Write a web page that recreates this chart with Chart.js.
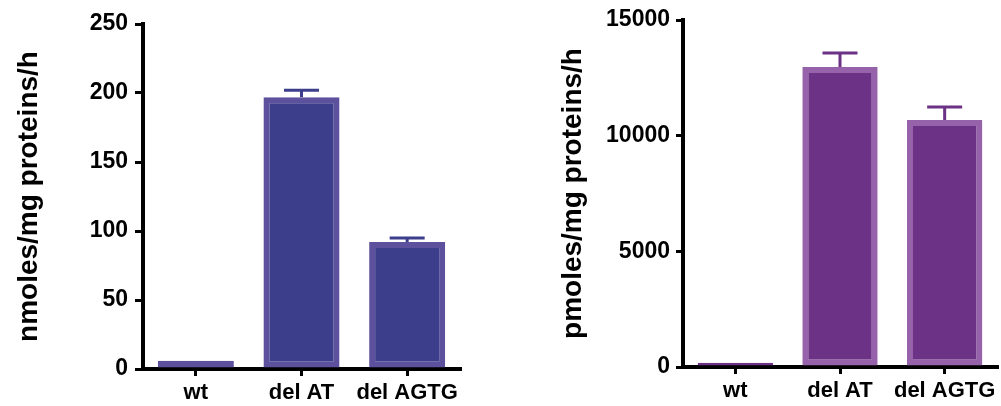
<!DOCTYPE html>
<html>
<head>
<meta charset="utf-8">
<script src="https://cdn.jsdelivr.net/npm/chart.js@4.4.1/dist/chart.umd.min.js"></script>
<style>
  html, body { margin: 0; padding: 0; background: #ffffff; }
  body { width: 1001px; height: 406px; position: relative; overflow: hidden; }
  canvas { position: absolute; top: 0; }
  #c1 { left: 0; }
  #c2 { left: 500px; }
</style>
</head>
<body>
<canvas id="c1" width="500" height="406"></canvas>
<canvas id="c2" width="501" height="406"></canvas>
<script>
// ---- data ----
const categories = ['wt', 'del AT', 'del AGTG'];

const nmolesValues = [6, 197, 92];
const nmolesErrors = [0, 5, 3];
const nmolesTicks = ['0', '50', '100', '150', '200', '250'];
const nmolesTitle = 'nmoles/mg proteins/h';

const pmolesValues = [180, 12970, 10680];
const pmolesErrors = [0, 600, 560];
const pmolesTicks = ['0', '5000', '10000', '15000'];
const pmolesTitle = 'pmoles/mg proteins/h';

// ---- error bar plugin ----
const errorBars = {
  id: 'errorBars',
  afterDatasetsDraw(chart, args, opts) {
    const ctx = chart.ctx;
    const yScale = chart.scales.y;
    chart.data.datasets.forEach((ds, di) => {
      const meta = chart.getDatasetMeta(di);
      meta.data.forEach((bar, i) => {
        const err = ds.errors[i];
        if (!err) return;
        const top = yScale.getPixelForValue(ds.data[i] + err);
        ctx.save();
        ctx.strokeStyle = opts.color;
        ctx.lineWidth = opts.lineWidth;
        ctx.beginPath();
        ctx.moveTo(bar.x, bar.y);
        ctx.lineTo(bar.x, top);
        ctx.moveTo(bar.x - opts.capWidth / 2, top);
        ctx.lineTo(bar.x + opts.capWidth / 2, top);
        ctx.stroke();
        ctx.restore();
      });
    });
  }
};

const FONT = "'Liberation Sans', Arial, Helvetica, sans-serif";

function makeChart(id, cfg) {
  return new Chart(document.getElementById(id), {
    type: 'bar',
    data: {
      labels: categories,
      datasets: [{
        data: cfg.values,
        errors: cfg.errors,
        backgroundColor: cfg.fill,
        borderColor: cfg.border,
        borderWidth: 6,
        borderSkipped: false,
        barPercentage: 0.9,
        categoryPercentage: 0.8
      }]
    },
    options: {
      responsive: false,
      animation: false,
      devicePixelRatio: 1,
      layout: { padding: cfg.padding },
      plugins: {
        legend: { display: false },
        tooltip: { enabled: false },
        errorBars: { color: cfg.fill, lineWidth: 3, capWidth: 35 }
      },
      scales: {
        x: {
          offset: true,
          grid: { offset: false, drawOnChartArea: false, drawTicks: true, tickLength: 7, color: '#000', lineWidth: 3 },
          border: { display: true, color: '#000', width: 4 },
          ticks: { color: '#000', padding: 4, font: { family: FONT, size: 22, weight: 'bold' }, maxRotation: 0, autoSkip: false },
          afterFit: (axis) => { axis.height = cfg.xHeight; }
        },
        y: {
          min: 0,
          max: cfg.max,
          grid: { drawOnChartArea: false, drawTicks: true, tickLength: cfg.tickLen, color: '#000', lineWidth: 3 },
          border: { display: true, color: '#000', width: 4 },
          ticks: {
            stepSize: cfg.step,
            color: '#000',
            padding: cfg.tickPad,
            font: { family: FONT, size: 23, weight: 'bold' },
            callback: (v, i) => cfg.tickLabels[i]
          },
          title: {
            display: true,
            text: cfg.title,
            color: '#000',
            font: { family: FONT, size: 28, weight: 'bold' },
            padding: { top: cfg.titlePad, bottom: 0 }
          },
          afterFit: (axis) => { axis.width = cfg.yWidth; }
        }
      }
    },
    plugins: [errorBars]
  });
}

makeChart('c1', {
  values: nmolesValues, errors: nmolesErrors, tickLabels: nmolesTicks, title: nmolesTitle,
  max: 250, step: 50,
  fill: '#3c3e8b', border: '#5d519e',
  padding: { left: 0, top: 24, right: 40, bottom: 0 },
  xHeight: 37, yWidth: 143, tickLen: 8, tickPad: 7, titlePad: 12
});

makeChart('c2', {
  values: pmolesValues, errors: pmolesErrors, tickLabels: pmolesTicks, title: pmolesTitle,
  max: 15000, step: 5000,
  fill: '#6b3286', border: ['#6b3286', '#9663aa', '#9663aa'],
  padding: { left: 0, top: 20, right: 4, bottom: 0 },
  xHeight: 39, yWidth: 183, tickLen: 7, tickPad: 6, titlePad: 56
});
</script>
</body>
</html>
